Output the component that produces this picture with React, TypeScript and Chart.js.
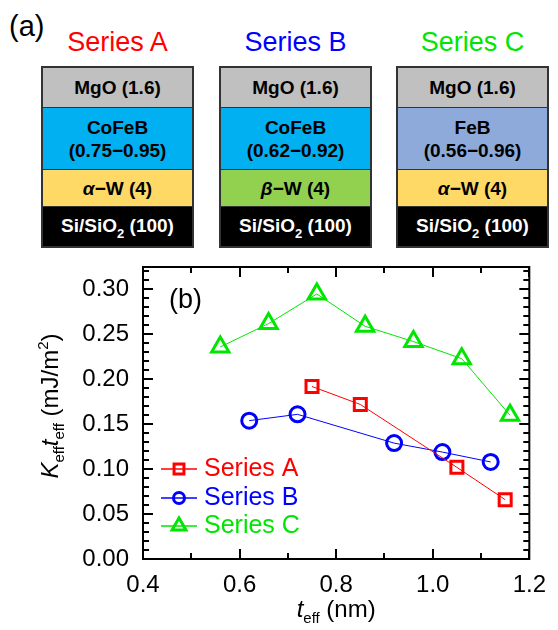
import React, { useEffect, useRef } from "react";
import { Chart, registerables } from "chart.js";
Chart.register(...registerables);

const seriesNames = ["Series A", "Series B", "Series C"];
const seriesColors = ["#ff0000", "#0000ff", "#00e600"];
const seriesAX = [0.75, 0.85, 1.05, 1.15];
const seriesAY = [0.192, 0.172, 0.102, 0.066];
const seriesBX = [0.62, 0.72, 0.92, 1.02, 1.12];
const seriesBY = [0.154, 0.161, 0.129, 0.119, 0.108];
const seriesCX = [0.56, 0.66, 0.76, 0.86, 0.96, 1.06, 1.16];
const seriesCY = [0.236, 0.262, 0.295, 0.259, 0.242, 0.223, 0.16];
const xTickValues = [0.4, 0.6, 0.8, 1.0, 1.2];
const xMinorValues = [0.5, 0.7, 0.9, 1.1];
const yTickValues = [0, 0.05, 0.1, 0.15, 0.2, 0.25, 0.3];
const yMinorValues = [
  0.01, 0.02, 0.03, 0.04, 0.06, 0.07, 0.08, 0.09, 0.11, 0.12, 0.13, 0.14,
  0.16, 0.17, 0.18, 0.19, 0.21, 0.22, 0.23, 0.24, 0.26, 0.27, 0.28, 0.29,
  0.31, 0.32,
];
const xMin = 0.4;
const xMax = 1.2;
const yMin = 0;
const yMax = 0.325;

const FONT = "'Liberation Sans', Arial, Helvetica, sans-serif";

type Seg = { t: string; italic?: boolean; size: number; dy?: number };

function drawRich(ctx: CanvasRenderingContext2D, segs: Seg[], cx: number, baseline: number) {
  let total = 0;
  const widths: number[] = [];
  for (const s of segs) {
    ctx.font = `${s.italic ? "italic " : ""}${s.size}px ${FONT}`;
    const w = ctx.measureText(s.t).width;
    widths.push(w);
    total += w;
  }
  let x = cx - total / 2;
  segs.forEach((s, i) => {
    ctx.font = `${s.italic ? "italic " : ""}${s.size}px ${FONT}`;
    ctx.fillText(s.t, x, baseline + (s.dy || 0));
    x += widths[i];
  });
}

function drawMarker(ctx: CanvasRenderingContext2D, style: string, x: number, y: number, r: number) {
  ctx.beginPath();
  if (style === "rect") {
    const s = r * Math.SQRT1_2;
    ctx.rect(x - s, y - s, 2 * s, 2 * s);
  } else if (style === "circle") {
    ctx.arc(x, y, r, 0, Math.PI * 2);
  } else {
    for (let k = 0; k < 3; k++) {
      const a = (k * 2 * Math.PI) / 3;
      const px = x + Math.sin(a) * r;
      const py = y - Math.cos(a) * r;
      if (k === 0) ctx.moveTo(px, py);
      else ctx.lineTo(px, py);
    }
    ctx.closePath();
  }
  ctx.stroke();
}

const framePlugin = {
  id: "frame",
  afterDraw(chart: any) {
    const { ctx, chartArea } = chart;
    const { left, right, top, bottom } = chartArea;
    const xs = chart.scales.x;
    const ys = chart.scales.y;
    ctx.save();
    ctx.strokeStyle = "#000";
    ctx.lineWidth = 2;
    ctx.strokeRect(left, top, right - left, bottom - top);
    ctx.beginPath();
    const major = 10;
    const minor = 6;
    for (const v of xTickValues) {
      const p = Math.round(xs.getPixelForValue(v));
      ctx.moveTo(p, bottom); ctx.lineTo(p, bottom - major);
      ctx.moveTo(p, top); ctx.lineTo(p, top + major);
    }
    for (const v of xMinorValues) {
      const p = Math.round(xs.getPixelForValue(v));
      ctx.moveTo(p, bottom); ctx.lineTo(p, bottom - minor);
      ctx.moveTo(p, top); ctx.lineTo(p, top + minor);
    }
    for (const v of yTickValues) {
      const p = Math.round(ys.getPixelForValue(v));
      ctx.moveTo(left, p); ctx.lineTo(left + major, p);
      ctx.moveTo(right, p); ctx.lineTo(right - major, p);
    }
    for (const v of yMinorValues) {
      const p = Math.round(ys.getPixelForValue(v));
      ctx.moveTo(left, p); ctx.lineTo(left + minor, p);
      ctx.moveTo(right, p); ctx.lineTo(right - minor, p);
    }
    ctx.stroke();

    // (b) label
    ctx.fillStyle = "#000";
    ctx.textBaseline = "alphabetic";
    ctx.textAlign = "left";
    ctx.font = `27px ${FONT}`;
    ctx.fillText("(b)", 169, 308);

    // legend
    const styles = ["rect", "circle", "triangle"];
    const radii = [7, 5.5, 8];
    const rowsY = [469, 498, 526];
    styles.forEach((st, i) => {
      const y = rowsY[i];
      ctx.strokeStyle = seriesColors[i];
      ctx.lineWidth = 1.5;
      ctx.beginPath();
      ctx.moveTo(161, y);
      ctx.lineTo(197, y);
      ctx.stroke();
      ctx.lineWidth = 3;
      drawMarker(ctx, st, 179, y, radii[i]);
      ctx.fillStyle = seriesColors[i];
      ctx.font = `25px ${FONT}`;
      ctx.textBaseline = "middle";
      ctx.fillText(seriesNames[i], 204, y);
    });

    // axis titles
    ctx.fillStyle = "#000";
    ctx.textBaseline = "alphabetic";
    ctx.textAlign = "left";
    drawRich(
      ctx,
      [
        { t: "t", italic: true, size: 24 },
        { t: "eff", size: 15, dy: 6 },
        { t: " (nm)", size: 24 },
      ],
      (left + right) / 2,
      617
    );
    ctx.save();
    ctx.translate(58, 406);
    ctx.rotate(-Math.PI / 2);
    drawRich(
      ctx,
      [
        { t: "K", italic: true, size: 24 },
        { t: "eff", size: 15, dy: 6 },
        { t: "t", italic: true, size: 24 },
        { t: "eff", size: 15, dy: 6 },
        { t: " (mJ/m", size: 24 },
        { t: "2", size: 15, dy: -10 },
        { t: ")", size: 24 },
      ],
      0,
      0
    );
    ctx.restore();
    ctx.restore();
  },
};

function toPoints(xs: number[], ys: number[]) {
  return xs.map((x, i) => ({ x, y: ys[i] }));
}

type BoxDef = {
  title: string;
  color: string;
  left: number;
  fm: string[];
  fmColor: string;
  greek: string;
  wColor: string;
};

const boxes: BoxDef[] = [
  { title: "Series A", color: seriesColors[0], left: 41, fm: ["CoFeB", "(0.75\u22120.95)"], fmColor: "#00b0f0", greek: "\u03b1", wColor: "#ffd966" },
  { title: "Series B", color: seriesColors[1], left: 219, fm: ["CoFeB", "(0.62\u22120.92)"], fmColor: "#00b0f0", greek: "\u03b2", wColor: "#92d050" },
  { title: "Series C", color: seriesColors[2], left: 396, fm: ["FeB", "(0.56\u22120.96)"], fmColor: "#8eaadb", greek: "\u03b1", wColor: "#ffd966" },
];

const layerText: React.CSSProperties = {
  display: "flex",
  flexDirection: "column",
  alignItems: "center",
  justifyContent: "center",
  fontWeight: "bold",
  fontSize: 19,
  fontFamily: FONT,
  boxSizing: "border-box",
  borderBottom: "1.5px solid #333",
  lineHeight: "23px",
  whiteSpace: "nowrap",
};

function Stack({ b }: { b: BoxDef }) {
  return (
    <>
      <div
        style={{
          position: "absolute",
          left: b.left - 20,
          top: 26,
          width: 193,
          height: 32,
          lineHeight: "32px",
          textAlign: "center",
          color: b.color,
          fontSize: 27,
          fontFamily: FONT,
        }}
      >
        {b.title}
      </div>
      <div
        style={{
          position: "absolute",
          left: b.left,
          top: 66,
          width: 153,
          height: 182,
          border: "2px solid #333",
          boxSizing: "border-box",
          display: "flex",
          flexDirection: "column",
        }}
      >
        <div style={{ ...layerText, height: 40, background: "#c0c0c0", color: "#000" }}>MgO (1.6)</div>
        <div style={{ ...layerText, height: 62, background: b.fmColor, color: "#000" }}>
          <div>{b.fm[0]}</div>
          <div>{b.fm[1]}</div>
        </div>
        <div style={{ ...layerText, height: 37, background: b.wColor, color: "#000" }}>
          <div>
            <i>{b.greek}</i>
            {"\u2212W (4)"}
          </div>
        </div>
        <div style={{ ...layerText, flex: 1, background: "#000", color: "#fff", borderBottom: "none" }}>
          <div>
            Si/SiO<span style={{ fontSize: 13, position: "relative", top: 6 }}>2</span> (100)
          </div>
        </div>
      </div>
    </>
  );
}

export default function App() {
  const canvasRef = useRef<HTMLCanvasElement>(null);
  useEffect(() => {
    const canvas = canvasRef.current!;
    const mk = (i: number, xs: number[], ys: number[], style: string, r: number) => ({
      label: seriesNames[i],
      data: toPoints(xs, ys),
      showLine: true,
      borderColor: seriesColors[i],
      borderWidth: 1,
      pointStyle: style,
      pointRadius: r,
      pointBorderWidth: 3,
      pointBorderColor: seriesColors[i],
      pointBackgroundColor: "rgba(0,0,0,0)",
      backgroundColor: "rgba(0,0,0,0)",
      fill: false,
    });
    const tickFont = { family: FONT, size: 24 };
    const chart = new Chart(canvas, {
      type: "scatter",
      data: {
        datasets: [
          mk(0, seriesAX, seriesAY, "rect", 8.5),
          mk(1, seriesBX, seriesBY, "circle", 7.5),
          mk(2, seriesCX, seriesCY, "triangle", 10),
        ] as any,
      },
      options: {
        responsive: false,
        animation: false,
        devicePixelRatio: 1,
        layout: { padding: { top: 267, right: 18, left: 0, bottom: 0 } },
        plugins: { legend: { display: false }, tooltip: { enabled: false } },
        scales: {
          x: {
            type: "linear",
            min: xMin,
            max: xMax,
            grid: { display: false, drawTicks: false },
            border: { display: false },
            afterBuildTicks: (s: any) => {
              s.ticks = xTickValues.map((v) => ({ value: v }));
            },
            afterFit: (s: any) => {
              s.height = 71;
            },
            ticks: {
              padding: 12,
              font: tickFont,
              color: "#000",
              maxRotation: 0,
              autoSkip: false,
              callback: (v: any) => Number(v).toFixed(1),
            },
          },
          y: {
            type: "linear",
            min: yMin,
            max: yMax,
            grid: { display: false, drawTicks: false },
            border: { display: false },
            afterBuildTicks: (s: any) => {
              s.ticks = yTickValues.map((v) => ({ value: v }));
            },
            afterFit: (s: any) => {
              s.width = 143;
            },
            ticks: {
              padding: 14,
              font: tickFont,
              color: "#000",
              autoSkip: false,
              callback: (v: any) => Number(v).toFixed(2),
            },
          },
        },
      } as any,
      plugins: [framePlugin],
    });
    return () => chart.destroy();
  }, []);

  return (
    <div style={{ position: "absolute", left: 0, top: 0, width: 558, height: 630, background: "#fff", overflow: "hidden" }}>
      <div
        style={{
          position: "absolute",
          left: 9,
          top: 10,
          fontSize: 29,
          lineHeight: "32px",
          fontFamily: FONT,
          color: "#000",
        }}
      >
        (a)
      </div>
      {boxes.map((b) => (
        <Stack key={b.title} b={b} />
      ))}
      <canvas ref={canvasRef} width={558} height={630} style={{ position: "absolute", left: 0, top: 0, display: "block" }} />
    </div>
  );
}
